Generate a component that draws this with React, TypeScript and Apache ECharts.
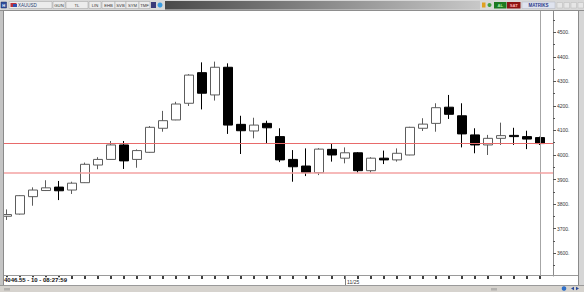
import React, { useEffect, useRef } from "react";
import * as echarts from "echarts";

// ---- data ----
const symbolName = "XAUUSD";
const periodMinutes = 10;
const lastTime = "08:27:59";
const dateBreakIndex = 26;
const dateBreakLabel = "11/25";

const opens = [
  3750, 3759, 3830, 3855, 3869, 3857, 3887, 3959, 3982, 4041, 3982, 4011, 4109, 4143,
  4211, 4336, 4245, 4358, 4125, 4098, 4129, 4075, 3982, 3955, 3928, 4023, 3987, 4009,
  3936, 3987, 3980, 4000, 4109, 4129, 4195, 4160, 4082, 4041, 4068, 4080, 4075, 4071,
];
const closes = [
  3757, 3834, 3857, 3866, 3854, 3885, 3962, 3982, 4041, 3976, 4018, 4113, 4140, 4208,
  4326, 4252, 4358, 4122, 4099, 4122, 4111, 3980, 3952, 3928, 4024, 4000, 4009, 3936,
  3987, 3980, 4007, 4113, 4126, 4193, 4166, 4086, 4041, 4068, 4079, 4075, 4065, 4046.55,
];
const lows = [
  3735, 3757, 3793, 3853, 3816, 3841, 3886, 3942, 3981, 3943, 3948, 4009, 4095, 4142,
  4200, 4186, 4222, 4086, 4004, 4068, 4045, 3971, 3891, 3914, 3918, 3973, 3966, 3928,
  3928, 3963, 3973, 3999, 4098, 4095, 4147, 4031, 4007, 4000, 4041, 4041, 4024, 4041,
];
const highs = [
  3778, 3836, 3868, 3897, 3894, 3891, 3969, 3991, 4057, 4057, 4023, 4118, 4180, 4217,
  4330, 4378, 4381, 4374, 4160, 4152, 4140, 4109, 4020, 4027, 4028, 4048, 4031, 4012,
  3991, 4018, 4027, 4115, 4150, 4211, 4245, 4211, 4109, 4082, 4132, 4111, 4099, 4075,
];
const supportLevel = 3929;
const yMajorTicks = [3600, 3700, 3800, 3900, 4000, 4100, 4200, 4300, 4400, 4500];
const yMinorTicks = [3550, 3650, 3750, 3850, 3950, 4050, 4150, 4250, 4350, 4450, 4550];
const toolbarLabels = ["GUN", "TL", "LIN", "EHB", "SVB", "SYM", "TMF"];

const FONT = "Liberation Sans, Arial, sans-serif";

export default function App() {
  const ref = useRef<HTMLDivElement>(null);

  useEffect(() => {
    if (!ref.current) return;
    const chart = echarts.init(ref.current, null, { renderer: "svg" });

    const lastIndex = opens.length - 1;
    const lastClose = closes[lastIndex];
    const indices = opens.map((_, i) => i);
    const candles = opens.map((o, i) => [i, o, closes[i], lows[i], highs[i]]);

    const yMin = 3506.3;
    const yMax = 4587.5;

    // toolbar layout
    const btnX = [53, 66, 89, 102, 115, 126, 139];
    const btnW = [12, 22, 12, 13, 11, 13, 11];
    const graphic: any[] = [];
    const z = 100;
    graphic.push({ type: "rect", z, shape: { x: 0, y: 0, width: 584, height: 10.5 }, style: { fill: "#d8d8d8" } });
    graphic.push({ type: "line", z: z + 1, shape: { x1: 0, y1: 10.5, x2: 584, y2: 10.5 }, style: { stroke: "#8e8e8e", lineWidth: 1 } });
    graphic.push({ type: "rect", z: z + 1, shape: { x: 1, y: 2, width: 5.5, height: 6 }, style: { fill: "#2f4f9f", stroke: "#1c2f66", lineWidth: 0.5 } });
    graphic.push({ type: "text", z: z + 2, x: 3.75, y: 5, style: { text: "H", fontSize: 4, fontWeight: "bold", fontFamily: FONT, fill: "#fff", align: "center", verticalAlign: "middle" } });
    graphic.push({ type: "rect", z: z + 1, shape: { x: 9, y: 1.5, width: 43, height: 7 }, style: { fill: "#ececec", stroke: "#a0a0a0", lineWidth: 0.5 } });
    graphic.push({ type: "rect", z: z + 2, shape: { x: 10.5, y: 3, width: 6, height: 4 }, style: { fill: "#c0303a" } });
    graphic.push({ type: "rect", z: z + 2, shape: { x: 13, y: 4, width: 4, height: 3 }, style: { fill: "#3050b0" } });
    graphic.push({ type: "text", z: z + 2, x: 18, y: 5, style: { text: symbolName, fontSize: 4.5, fontFamily: FONT, fill: "#283a70", align: "left", verticalAlign: "middle" } });
    toolbarLabels.forEach((t, i) => {
      graphic.push({ type: "rect", z: z + 1, shape: { x: btnX[i], y: 1.5, width: btnW[i], height: 7 }, style: { fill: "#ececec", stroke: "#a0a0a0", lineWidth: 0.5 } });
      graphic.push({ type: "text", z: z + 2, x: btnX[i] + btnW[i] / 2, y: 5, style: { text: t, fontSize: 4.2, fontFamily: FONT, fill: "#333", align: "center", verticalAlign: "middle" } });
    });
    graphic.push({ type: "rect", z: z + 1, shape: { x: 151, y: 2, width: 5, height: 6 }, style: { fill: "#3a3a7a" } });
    graphic.push({ type: "circle", z: z + 1, shape: { cx: 160, cy: 5, r: 2.5 }, style: { fill: "#3a9be0" } });
    graphic.push({
      type: "rect", z: z + 1, shape: { x: 165, y: 1, width: 315, height: 8.5 },
      style: { fill: new echarts.graphic.LinearGradient(0, 0, 1, 0, [ { offset: 0, color: "#4a4a4a" }, { offset: 1, color: "#c8c8c8" } ]) },
    });
    graphic.push({ type: "rect", z: z + 1, shape: { x: 482, y: 2.5, width: 3.5, height: 5 }, style: { fill: "#e0a020" } });
    graphic.push({ type: "circle", z: z + 1, shape: { cx: 489.5, cy: 5, r: 2 }, style: { fill: "#40a040" } });
    graphic.push({ type: "rect", z: z + 1, shape: { x: 494, y: 2, width: 12.5, height: 6.5 }, style: { fill: "#1d7a22" } });
    graphic.push({ type: "text", z: z + 2, x: 500.25, y: 5.3, style: { text: "AL", fontSize: 4.2, fontWeight: "bold", fontFamily: FONT, fill: "#a8f0a8", align: "center", verticalAlign: "middle" } });
    graphic.push({ type: "rect", z: z + 1, shape: { x: 507, y: 2, width: 13.5, height: 6.5 }, style: { fill: "#8c1414" } });
    graphic.push({ type: "text", z: z + 2, x: 513.75, y: 5.3, style: { text: "SAT", fontSize: 4.2, fontWeight: "bold", fontFamily: FONT, fill: "#ffb0b0", align: "center", verticalAlign: "middle" } });
    graphic.push({ type: "rect", z: z + 1, shape: { x: 522, y: 2, width: 33, height: 6.5 }, style: { fill: "#dfe3ee", stroke: "#b0b4c0", lineWidth: 0.5 } });
    graphic.push({ type: "text", z: z + 2, x: 538.5, y: 5.3, style: { text: "MATRIKS", fontSize: 4.5, fontWeight: "bold", fontFamily: FONT, fill: "#2a3a8a", align: "center", verticalAlign: "middle" } });
    [557, 564, 571, 578].forEach((bx) => {
      graphic.push({ type: "rect", z: z + 1, shape: { x: bx, y: 2.5, width: 5.5, height: 5.5 }, style: { fill: "#e6e6e6", stroke: "#b8b8b8", lineWidth: 0.5 } });
    });
    graphic.push({ type: "rect", z, shape: { x: 0, y: 10.5, width: 3.5, height: 275 }, style: { fill: "#c4c4c4" } });
    graphic.push({ type: "line", z: z + 1, shape: { x1: 3.5, y1: 10.5, x2: 3.5, y2: 285 }, style: { stroke: "#8a8a8a", lineWidth: 1 } });
    graphic.push({ type: "rect", z, shape: { x: 578, y: 10.5, width: 6, height: 275 }, style: { fill: "#d6d6d6" } });
    graphic.push({ type: "line", z: z + 1, shape: { x1: 578.5, y1: 10.5, x2: 578.5, y2: 285 }, style: { stroke: "#8a8a8a", lineWidth: 1 } });
    graphic.push({ type: "line", z: 20, shape: { x1: 3.5, y1: 275.5, x2: 578, y2: 275.5 }, style: { stroke: "#9a9a9a", lineWidth: 1 } });
    graphic.push({ type: "rect", z, shape: { x: 0, y: 285, width: 584, height: 7 }, style: { fill: "#d6d3ce" } });
    graphic.push({ type: "line", z: z + 1, shape: { x1: 0, y1: 285.5, x2: 584, y2: 285.5 }, style: { stroke: "#9a9a9a", lineWidth: 1 } });
    [5, 7, 9].forEach((lx) => {
      graphic.push({ type: "line", z: z + 1, shape: { x1: lx, y1: 288, x2: lx, y2: 290.5 }, style: { stroke: "#777", lineWidth: 0.7 } });
    });
    [492, 494, 496].forEach((lx) => {
      graphic.push({ type: "line", z: z + 1, shape: { x1: lx, y1: 288, x2: lx, y2: 290.5 }, style: { stroke: "#777", lineWidth: 0.7 } });
    });
    graphic.push({ type: "circle", z: z + 1, shape: { cx: 564, cy: 288.5, r: 2.3 }, style: { fill: "#2f6fc8" } });
    graphic.push({ type: "polygon", z: z + 1, shape: { points: [[571, 288.5], [574, 286.8], [574, 290.2]] }, style: { fill: "#2a4a9a" } });
    graphic.push({ type: "polygon", z: z + 1, shape: { points: [[579, 288.5], [576, 286.8], [576, 290.2]] }, style: { fill: "#2a4a9a" } });
    graphic.push({
      type: "text", z: 60, x: 4, y: 277.2,
      style: {
        text: `${lastClose.toFixed(2)} - ${periodMinutes} - ${lastTime}`,
        fontSize: 6, fontWeight: "bold", fontFamily: FONT, fill: "#111",
        backgroundColor: "#ffffff", padding: [0, 1, 0, 0], align: "left", verticalAlign: "top",
      },
    });

    const levelLine = (value: number, color: string, width: number) => ({
      type: "line",
      xAxisIndex: 0,
      yAxisIndex: 0,
      data: [],
      silent: true,
      markLine: {
        silent: true,
        symbol: ["none", "none"],
        label: { show: false },
        lineStyle: { color, width, type: "solid", opacity: 1 },
        emphasis: { disabled: true },
        data: [{ yAxis: value }],
      },
    });

    const option: any = {
      animation: false,
      backgroundColor: "#ffffff",
      textStyle: { fontFamily: FONT },
      grid: { left: 4, right: 31, top: 11, bottom: 16, containLabel: false, outerBoundsMode: "none" },
      xAxis: [
        {
          type: "value", position: "bottom", min: -0.25, max: 42,
          axisLine: { show: false, onZero: false },
          axisTick: { show: true, length: 3, customValues: indices, lineStyle: { color: "#000", width: 1.5 } },
          axisLabel: { show: false },
          splitLine: { show: false },
        },
        {
          type: "value", position: "bottom", min: -0.25, max: 42,
          axisLine: { show: false, onZero: false },
          axisTick: { show: true, length: 9, customValues: [dateBreakIndex], lineStyle: { color: "#808080", width: 1 } },
          axisLabel: {
            show: true, customValues: [dateBreakIndex], formatter: () => dateBreakLabel,
            fontSize: 5, color: "#333", align: "left", margin: 3, padding: [0, 0, 0, 2], fontFamily: FONT,
          },
          splitLine: { show: false },
        },
      ],
      yAxis: [
        {
          type: "value", position: "right", min: yMin, max: yMax,
          axisLine: { show: true, onZero: false, lineStyle: { color: "#8a8a8a", width: 1 } },
          axisTick: { show: true, length: 3, customValues: yMajorTicks, lineStyle: { color: "#555" } },
          axisLabel: {
            show: true, customValues: yMajorTicks, formatter: (v: number) => `${v}.`,
            fontSize: 5, color: "#333", margin: 4, fontFamily: FONT,
          },
          splitLine: { show: false },
        },
        {
          type: "value", position: "right", min: yMin, max: yMax,
          axisLine: { show: false, onZero: false },
          axisTick: { show: true, length: 2, customValues: yMinorTicks, lineStyle: { color: "#555" } },
          axisLabel: { show: false },
          splitLine: { show: false },
        },
      ],
      series: [
        {
          type: "candlestick",
          xAxisIndex: 0,
          yAxisIndex: 0,
          barWidth: 9,
          encode: { x: 0, y: [1, 2, 3, 4] },
          data: candles,
          itemStyle: {
            color: "#ffffff", color0: "#000000",
            borderColor: "#5c5c5c", borderColor0: "#000000", borderWidth: 1,
          },
          markLine: {
            silent: true,
            symbol: ["none", "none"],
            label: { show: false },
            lineStyle: { color: "#a6a6a6", width: 1, type: "solid", opacity: 1 },
            data: [{ xAxis: lastIndex }],
          },
        },
        levelLine(lastClose, "#e86a6a", 1.2),
        levelLine(supportLevel, "#f3a2a2", 1.5),
      ],
      graphic,
    };

    chart.setOption(option);
    return () => chart.dispose();
  }, []);

  return (
    <div
      ref={ref}
      style={{ position: "fixed", left: 0, top: 0, width: 584, height: 292, background: "#fff" }}
    />
  );
}
